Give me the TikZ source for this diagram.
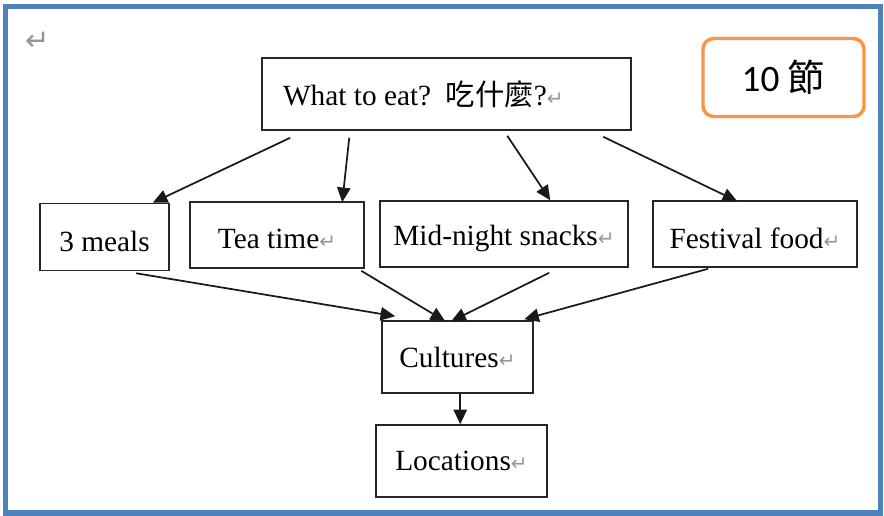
\documentclass[tikz,border=0pt]{standalone}
\usepackage{fontspec}
\setmainfont{Liberation Serif}
\newfontfamily\cjkfont{Noto Sans CJK TC}
\newfontfamily\markfont{DejaVu Sans}
\newfontfamily\calfont{Carlito}
\usetikzlibrary{arrows.meta,calc}
\definecolor{frameblue}{RGB}{79,129,189}
\definecolor{tenorange}{RGB}{247,150,70}
\definecolor{markgray}{RGB}{150,150,150}
\newcommand{\retmark}{{\markfont\fontsize{15}{18}\selectfont\color{markgray}↵}}
\newcommand{\lowr}[1]{\raisebox{-3pt}[\height][\depth]{#1}}
\tikzset{
  box/.style={draw=black!85, line width=1.15pt, rectangle, inner sep=0pt,
    font=\fontsize{22}{26}\selectfont},
  arr/.style={draw=black!90, line width=1.3pt, -{Triangle[length=11pt,width=10pt]}},
}
\begin{document}
\begin{tikzpicture}[x=0.75pt,y=-0.75pt]
\useasboundingbox (0,0) rectangle (884,515);
\draw[frameblue, line width=3.9pt] (5.5,6.5) rectangle (880.5,513);
\node[text=markgray, font=\markfont\fontsize{22}{26}\selectfont] (rm) at (38,41) {↵};

\node[box, inner xsep=15.75pt, minimum height={72*0.75pt}] (top) at (446.5,94)
  {\makebox[245.25pt][l]{What to eat?\ \ {\cjkfont 吃什麼}?\retmark}};
\node[draw=tenorange, line width=2.6pt, rounded corners=8pt,
  minimum width={161*0.75pt}, minimum height={78*0.75pt},
  font=\calfont\fontsize{28}{32}\selectfont] (ten) at (783.5,77.5) {10 {\cjkfont 節}};

\node[box, minimum width={129*0.75pt}, minimum height={67*0.75pt}] (meals) at (104.5,237) {\lowr{3 meals}};
\node[box, minimum width={174*0.75pt}, minimum height={66*0.75pt}] (tea) at (277,235) {\lowr{Tea time\retmark}};
\node[box, minimum width={248*0.75pt}, minimum height={66*0.75pt}] (mid) at (504,234) {\lowr{Mid-night snacks\retmark}};
\node[box, minimum width={204*0.75pt}, minimum height={66*0.75pt}] (fest) at (755,234) {\lowr{Festival food\retmark}};
\node[box, minimum width={151*0.75pt}, minimum height={72*0.75pt}] (cult) at (457.5,357) {Cultures\retmark};
\node[box, minimum width={171*0.75pt}, minimum height={72*0.75pt}] (loc) at (461.5,461) {Locations\retmark};

\draw[arr] ($(top.south west)+(29,7)$) -- ($(meals.north east)+(-17,0)$);
\draw[arr] ($(top.south west)+(88,7)$) -- ($(tea.north west)+(153,1)$);
\draw[arr] ($(top.south west)+(246,5)$) -- ($(mid.north west)+(171,0)$);
\draw[arr] ($(top.south west)+(342,6)$) -- ($(fest.north west)+(85,1)$);

\draw[arr] ($(meals.south west)+(97,2)$) -- ($(cult.north west)+(14,-4)$);
\draw[arr] ($(tea.south west)+(172,2)$) -- ($(cult.north west)+(64,1)$);
\draw[arr] ($(mid.south west)+(170,5)$) -- ($(cult.north west)+(70,1)$);
\draw[arr] ($(fest.south west)+(56,1)$) -- ($(cult.north west)+(143,-1)$);
\draw[arr] ($(cult.south west)+(79,0)$) -- ($(loc.north west)+(85,0)$);
\end{tikzpicture}
\end{document}
